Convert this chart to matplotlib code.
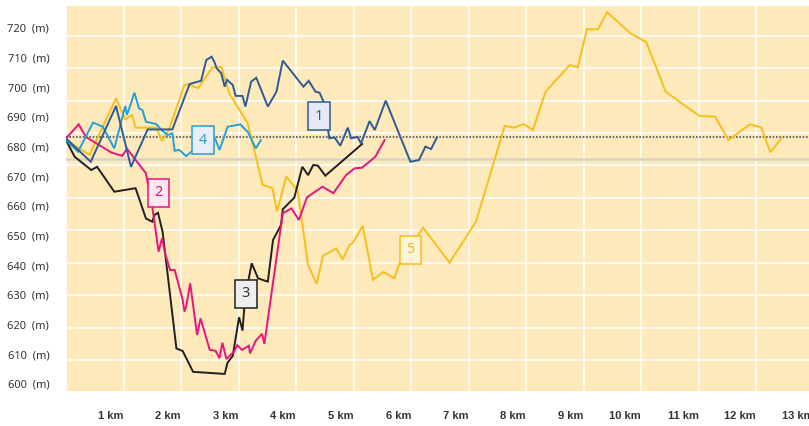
"""
Elevation profiles of five walking routes, drawn on one shared distance axis.
"""

import matplotlib.pyplot as plt

# Route 1 (dark blue)
KM_1 = [0.00, 0.43, 0.87, 1.13, 1.42, 1.85, 2.15, 2.35, 2.44, 2.53, 2.58, 2.62, 2.70, 2.76, 2.80,
        2.90, 2.95, 3.07, 3.12, 3.22, 3.31, 3.51, 3.66, 3.77, 4.13, 4.22, 4.34, 4.41, 4.48, 4.58,
        4.67, 4.77, 4.90, 4.96, 5.07, 5.13, 5.28, 5.37, 5.56, 5.99, 6.14, 6.25, 6.35, 6.45]
M_1 = [682.8, 674.9, 693.7, 673.2, 685.8, 685.8, 701.1, 702.2, 709.2, 710.3, 708.6, 706.4, 704.7, 700.2,
       702.5, 700.8, 697.1, 697.1, 693.5, 701.9, 703.2, 693.5, 698.5, 709.0, 700.2, 702.2, 698.5, 698.2,
       695.1, 682.8, 683.1, 680.3, 686.4, 682.8, 683.3, 681.1, 688.6, 685.6, 695.5, 674.9, 675.5, 680.0,
       679.2, 683.1]

# Route 2 (magenta)
KM_2 = [0.00, 0.22, 0.35, 0.79, 0.98, 1.06, 1.39, 1.50, 1.61, 1.67, 1.73, 1.81, 1.89, 2.03, 2.06,
        2.09, 2.16, 2.28, 2.34, 2.50, 2.60, 2.67, 2.72, 2.79, 2.92, 2.98, 3.06, 3.18, 3.20, 3.30,
        3.41, 3.45, 3.77, 3.92, 4.05, 4.19, 4.46, 4.65, 4.87, 5.02, 5.15, 5.38, 5.54]
M_2 = [682.8, 687.5, 683.2, 678.0, 676.9, 679.3, 671.0, 659.8, 644.6, 649.1, 643.5, 638.4, 638.4, 628.3,
       624.4, 626.1, 633.9, 616.5, 622.1, 611.5, 611.2, 608.7, 613.9, 608.4, 610.9, 613.1, 611.5, 612.9,
       610.3, 614.6, 616.9, 613.5, 657.5, 659.2, 655.3, 662.9, 666.5, 664.3, 670.4, 672.7, 672.9, 676.6,
       682.2]

# Route 3 (black)
KM_3 = [0.00, 0.15, 0.44, 0.54, 0.84, 1.21, 1.39, 1.50, 1.54, 1.60, 1.68, 1.92, 2.03, 2.21, 2.76,
        2.81, 2.90, 3.01, 3.07, 3.10, 3.17, 3.23, 3.34, 3.51, 3.60, 3.74, 3.77, 3.97, 4.11, 4.21,
        4.30, 4.38, 4.51, 5.15]
M_3 = [682.2, 676.6, 672.1, 673.2, 664.8, 666.0, 655.8, 654.7, 657.0, 657.7, 651.3, 612.0, 611.1, 604.1,
       603.4, 607.2, 609.5, 622.5, 618.0, 625.5, 634.7, 640.7, 635.6, 634.5, 648.5, 653.6, 658.9, 662.8,
       673.2, 670.4, 673.8, 673.6, 670.2, 680.9]

# Route 4 (light blue)
KM_4 = [0.00, 0.21, 0.47, 0.64, 0.84, 1.03, 1.06, 1.12, 1.19, 1.27, 1.33, 1.39, 1.57, 1.66, 1.77,
        1.85, 1.89, 1.97, 2.09, 2.18, 2.58, 2.67, 2.81, 3.03, 3.16, 3.30, 3.39]
M_4 = [682.2, 678.3, 688.1, 686.7, 679.4, 693.7, 690.7, 694.0, 698.2, 692.9, 692.3, 688.4, 687.6, 685.6,
       683.9, 684.5, 678.6, 678.9, 676.8, 678.3, 683.3, 678.9, 686.7, 687.5, 685.0, 679.4, 682.2]

# Route 5 (yellow)
KM_5 = [0.00, 0.41, 0.87, 1.03, 1.15, 1.21, 1.57, 1.67, 1.80, 2.06, 2.12, 2.30, 2.54, 2.70, 2.84,
        3.16, 3.42, 3.59, 3.67, 3.83, 4.03, 4.21, 4.36, 4.47, 4.70, 4.81, 4.93, 4.99, 5.16, 5.34,
        5.52, 5.71, 5.80, 6.21, 6.67, 7.13, 7.63, 7.79, 7.96, 8.12, 8.34, 8.76, 8.90, 9.06, 9.25,
        9.41, 9.83, 10.09, 10.43, 11.01, 11.29, 11.52, 11.89, 12.09, 12.25, 12.45]
M_5 = [682.2, 677.2, 696.3, 689.2, 690.7, 686.4, 686.4, 681.9, 686.2, 700.8, 701.0, 699.7, 706.6, 706.9,
       698.0, 687.9, 667.1, 666.0, 658.1, 669.9, 665.1, 640.1, 633.7, 643.2, 645.7, 642.0, 646.8, 647.6,
       653.3, 635.1, 637.8, 635.6, 640.7, 652.7, 640.9, 654.7, 687.0, 686.4, 687.6, 685.6, 698.5, 707.5,
       706.7, 719.6, 719.5, 725.3, 718.0, 715.3, 698.5, 690.4, 690.1, 682.2, 687.5, 686.5, 678.1, 683.0]

# reference levels (m)
DOTTED_LEVEL = 683.3
GRAY_LEVEL = 675.8

Y_TICKS = list(range(600, 730, 10))
X_TICKS = list(range(1, 14))

BG = "#fde9ba"
TEXT = "#333333"


def draw_route(ax, km, m, color, label, label_pos, face, txt):
    ax.plot(km, m, color=color, lw=1.4, solid_joinstyle="miter", zorder=3)
    ax.text(label_pos[0], label_pos[1], label, ha="center", va="center", fontsize=10.5,
            color=txt, family="Noto Sans", zorder=5,
            bbox=dict(boxstyle="square,pad=0.45", fc=face, ec=color, lw=1.1))


def main():
    fig = plt.figure(figsize=(8.09, 4.26), dpi=100)
    ax = fig.add_axes([66 / 809, 35 / 426, 743 / 809, 385 / 426])
    ax.set_facecolor(BG)
    for s in ax.spines.values():
        s.set_visible(False)

    ax.set_xlim(0, 743 / 57.5)
    ax.set_ylim(597.64, 727.4)

    # background grid does not line up with the elevation labels in the original
    for k in range(11):
        ax.plot([0, 1], [0.0805 + 0.08423 * k] * 2, transform=ax.transAxes,
                color="white", lw=1.1, zorder=1)
    for k in [0] + X_TICKS[:-1]:
        ax.axvline(k, color="white", lw=1.1, zorder=1)

    ax.axhline(GRAY_LEVEL, color="#d8d2c6", lw=1.8, zorder=2)
    ax.axhline(DOTTED_LEVEL, color="#555555", lw=1.2, ls=(0, (1, 1)), zorder=2)

    draw_route(ax, KM_5, M_5, "#f7be1c", "5", (5.99, 645.3), "#fdf3d8", "#f2b91c")
    draw_route(ax, KM_3, M_3, "#231f20", "3", (3.13, 630.4), "#eceef0", "#333333")
    draw_route(ax, KM_2, M_2, "#e6157f", "2", (1.61, 664.4), "#fbe8f0", "#e0127c")
    draw_route(ax, KM_4, M_4, "#23a0d8", "4", (2.38, 682.1), "#e7eef7", "#2f9fd2")
    draw_route(ax, KM_1, M_1, "#2f5b95", "1", (4.40, 690.3), "#e6e9f5", "#3d5a90")

    ax.set_yticks(Y_TICKS)
    ax.set_yticklabels([f"{v}  (m)" for v in Y_TICKS], family="Noto Sans", fontsize=8, color=TEXT)
    ax.set_xticks(X_TICKS[:-1])
    ax.set_xticklabels([f"{v} km" for v in X_TICKS[:-1]], ha="right", family="Liberation Sans",
                       fontsize=8, fontweight="bold", color=TEXT)
    ax.tick_params(axis="y", length=0, pad=12)
    ax.tick_params(axis="x", length=0, pad=14.5)
    # last label falls outside the visible range and gets cut by the figure edge
    ax.text(X_TICKS[-1], -0.0519, f"{X_TICKS[-1]} km", transform=ax.get_xaxis_transform(),
            ha="right", va="top", family="Liberation Sans", fontsize=8, fontweight="bold",
            color=TEXT, clip_on=False)

    fig.savefig("out.png", dpi=100)


if __name__ == "__main__":
    main()
